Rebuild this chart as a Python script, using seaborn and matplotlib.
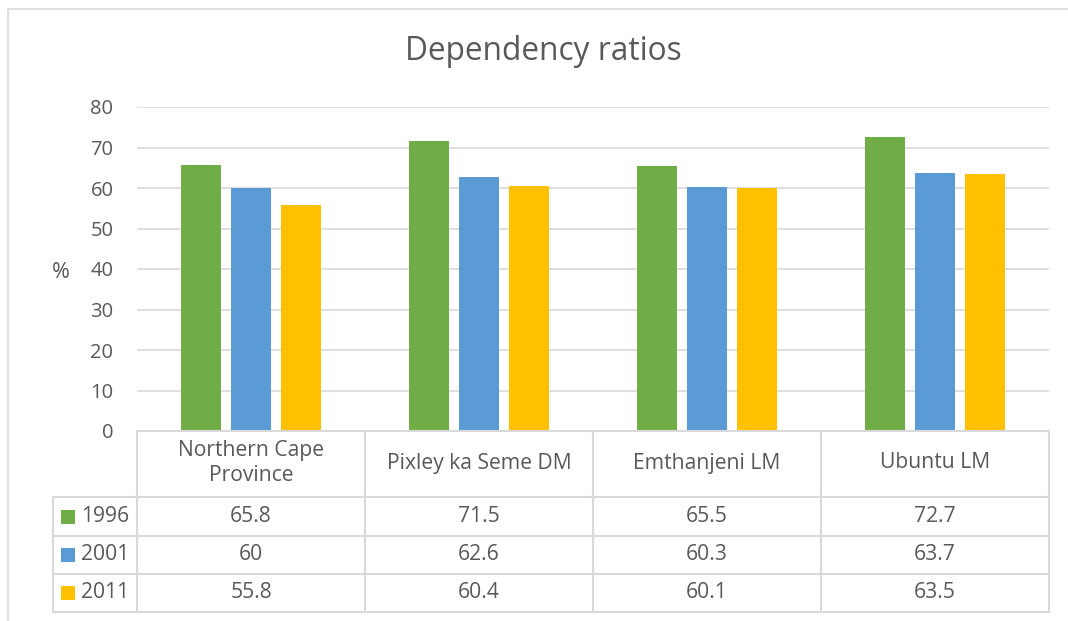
import matplotlib
matplotlib.use("Agg")
import matplotlib.pyplot as plt
import seaborn as sns
import pandas as pd
from matplotlib.lines import Line2D
from matplotlib.patches import Rectangle

categories = ["Northern Cape\nProvince", "Pixley ka Seme DM", "Emthanjeni LM", "Ubuntu LM"]
years = ["1996", "2001", "2011"]
values_1996 = [65.8, 71.5, 65.5, 72.7]
values_2001 = [60, 62.6, 60.3, 63.7]
values_2011 = [55.8, 60.4, 60.1, 63.5]
labels_1996 = ["65.8", "71.5", "65.5", "72.7"]
labels_2001 = ["60", "62.6", "60.3", "63.7"]
labels_2011 = ["55.8", "60.4", "60.1", "63.5"]
colors = ["#70AD47", "#5B9BD5", "#FFC000"]
yticks = [0, 10, 20, 30, 40, 50, 60, 70, 80]

rows = []
for yr, vals in zip(years, [values_1996, values_2001, values_2011]):
    for c, v in zip(categories, vals):
        rows.append({"cat": c, "year": yr, "val": v})
df = pd.DataFrame(rows)

sns.set_theme(style="white")
plt.rcParams["font.family"] = ["Open Sans", "DejaVu Sans"]
TXT = "#595959"
GRID = "#D9D9D9"
FS = 14.5
TFS = 15.2

W, H = 1068, 621
fig = plt.figure(figsize=(W / 100, H / 100), dpi=100)

def fx(px):
    return px / W

def fy(py):
    return 1 - py / H

# outer chart border
fig.patches.append(Rectangle((fx(8), fy(640)), fx(1080) - fx(8), fy(9) - fy(640),
                             transform=fig.transFigure, fill=False, edgecolor=GRID, lw=1.2))

L, R, T, B = 137, 1049, 107, 431
ax = fig.add_axes([fx(L), fy(B), fx(R) - fx(L), fy(T) - fy(B)])
sns.barplot(data=df, x="cat", y="val", hue="year", palette=colors, width=0.66, gap=0.2,
            ax=ax, legend=False, saturation=1, edgecolor="none")
ax.set_xlim(-0.5, 3.5)
ax.set_ylim(0, 80)
ax.set_yticks(yticks)
ax.set_yticklabels([str(t) for t in yticks], color=TXT, fontsize=FS)
ax.set_xticks([])
ax.set_xlabel("")
ax.set_ylabel("")
ax.tick_params(axis="y", length=0, pad=17)
ax.grid(axis="y", color=GRID, lw=1.2)
ax.set_axisbelow(True)
for s in ["top", "right", "left", "bottom"]:
    ax.spines[s].set_visible(False)

fig.text(fx(61), fy(273), "%", color=TXT, fontsize=15.5, ha="center", va="center")
fig.text(fx(543), fy(52), "Dependency ratios", color=TXT, fontsize=22.8, ha="center", va="center")

# data table
row_lines = [431, 497, 536, 574, 612]
col_lines = [L + (R - L) * k / 4 for k in range(5)]
LC = 53
kw = dict(transform=fig.transFigure, color=GRID, lw=1.5)
fig.add_artist(Line2D([fx(L), fx(R)], [fy(431), fy(431)], **kw))
for ry in row_lines[1:]:
    fig.add_artist(Line2D([fx(LC), fx(R)], [fy(ry), fy(ry)], **kw))
for cx in col_lines:
    fig.add_artist(Line2D([fx(cx), fx(cx)], [fy(431), fy(612)], **kw))
fig.add_artist(Line2D([fx(LC), fx(LC)], [fy(497), fy(612)], **kw))

for k, c in enumerate(categories):
    cx = (col_lines[k] + col_lines[k + 1]) / 2
    fig.text(fx(cx), fy(463), c, color=TXT, fontsize=TFS, ha="center", va="center",
             linespacing=1.2)

for i, (yr, labs) in enumerate(zip(years, [labels_1996, labels_2001, labels_2011])):
    cy = (row_lines[i + 1] + row_lines[i + 2]) / 2
    fig.patches.append(Rectangle((fx(61), fy(cy + 7)), fx(14), fy(cy - 7) - fy(cy + 7),
                                 transform=fig.transFigure, color=colors[i], lw=0))
    fig.text(fx(81), fy(cy), yr, color=TXT, fontsize=TFS, ha="left", va="center")
    for k, lab in enumerate(labs):
        cx = (col_lines[k] + col_lines[k + 1]) / 2
        fig.text(fx(cx), fy(cy), lab, color=TXT, fontsize=TFS, ha="center", va="center")

fig.savefig("out.png", dpi=100, facecolor="white")
